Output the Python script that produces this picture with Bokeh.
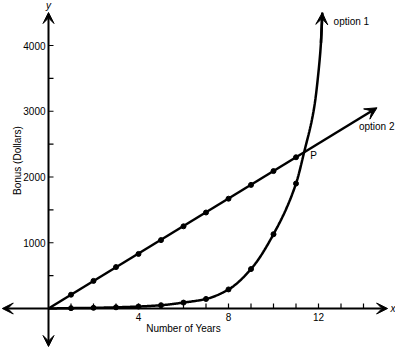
import numpy as np
from bokeh.plotting import figure
from bokeh.models import Range1d, Arrow, VeeHead
from bokeh.core.properties import value
from bokeh.embed import file_html
from bokeh.resources import INLINE

# ---- data ----
years = [1, 2, 3, 4, 5, 6, 7, 8, 9, 10, 11]
option1 = [5, 10, 18, 30, 50, 90, 145, 290, 600, 1130, 1900]
option2 = [210, 420, 630, 830, 1040, 1250, 1460, 1670, 1880, 2090, 2300]
# continuation of option 1 curve past the last marked year, up to its arrow tip
option1_ext_x = [11.37, 11.8, 12.0, 12.12, 12.17]
option1_ext_y = [2390, 3040, 3600, 4100, 4500]
option2_end_x = 14.6
intersection = (11.37, 2390)
x_axis_end = 15.07
y_axis_end = 4502
x_ticks = list(range(1, 15))
x_tick_labels = {4: "4", 8: "8", 12: "12"}
y_ticks = [500, 1000, 1500, 2000, 2500, 3000, 3500, 4000]
y_tick_labels = {1000: "1000", 2000: "2000", 3000: "3000", 4000: "4000"}

# ---- scale (pixels per unit) ----
PX_X = 22.5
PX_Y = 65.75 / 1000.0
OX, OY = 48, 308  # origin position in pixels
W, H = 395, 347

FONT = value("Liberation Sans")

p = figure(width=W, height=H, output_backend="svg", toolbar_location=None,
           x_range=Range1d(-OX / PX_X, (W - OX) / PX_X),
           y_range=Range1d((OY - H) / PX_Y, OY / PX_Y),
           min_border=0, outline_line_color=None)
p.axis.visible = False
p.grid.visible = False
p.background_fill_color = "white"
p.border_fill_color = "white"

x0, x1 = p.x_range.start, p.x_range.end
y0, y1 = p.y_range.start, p.y_range.end


def head(size=11):
    return VeeHead(size=size, fill_color="black", line_color="black", line_width=1)


# axes with arrows
p.add_layout(Arrow(x_start=0, y_start=0, x_end=x_axis_end, y_end=0, line_width=2, end=head()))
p.add_layout(Arrow(x_start=0, y_start=0, x_end=x0 + 0.08, y_end=0, line_width=2, end=head()))
p.add_layout(Arrow(x_start=0, y_start=0, x_end=0, y_end=y_axis_end, line_width=2, end=head()))
p.add_layout(Arrow(x_start=0, y_start=0, x_end=0, y_end=y0 + 15, line_width=2, end=head()))

# ticks
p.segment(x0=x_ticks, y0=[0] * len(x_ticks), x1=x_ticks, y1=[5 / PX_Y] * len(x_ticks),
          line_color="black", line_width=1.2)
p.segment(x0=[0] * len(y_ticks), y0=y_ticks, x1=[5 / PX_X] * len(y_ticks), y1=y_ticks,
          line_color="black", line_width=1.2)

# tick labels
xl = list(x_tick_labels.keys())
p.text(x=xl, y=[0] * len(xl), text=[x_tick_labels[k] for k in xl], y_offset=4,
       text_align="center", text_baseline="top", text_font=FONT,
       text_font_size="10px", text_color="black")
yl = list(y_tick_labels.keys())
p.text(x=[0] * len(yl), y=yl, text=[y_tick_labels[k] for k in yl], x_offset=-3,
       text_align="right", text_baseline="middle", text_font=FONT,
       text_font_size="10px", text_color="black")

# axis titles
p.text(x=[6.0], y=[0], text=["Number of Years"], y_offset=14, text_align="center",
       text_baseline="top", text_font=FONT, text_font_size="10px", text_color="black")
p.text(x=[-31 / PX_X], y=[2250], text=["Bonus (Dollars)"], angle=np.pi / 2,
       text_align="center", text_baseline="middle", text_font=FONT,
       text_font_size="10px", text_color="black")
p.text(x=[x_axis_end], y=[0], text=["x"], x_offset=3, text_align="left", text_baseline="middle",
       text_font=FONT, text_font_size="10px", text_font_style="italic", text_color="black")
p.text(x=[0], y=[y1], text=["y"], y_offset=-1, text_align="center", text_baseline="top",
       text_font=FONT, text_font_size="10px", text_font_style="italic", text_color="black")

# option 2 line
slope = option2[-1] / years[-1]
p.add_layout(Arrow(x_start=0, y_start=0, x_end=option2_end_x, y_end=slope * option2_end_x,
                   line_width=2.5, end=head(12)))
p.scatter(years, option2, size=5, color="black")

# option 1 curve (monotone cubic through the points)
cx = np.array([0] + years + option1_ext_x, dtype=float)
cy = np.array([0] + option1 + option1_ext_y, dtype=float)


def pchip(x, y, xs):
    h = np.diff(x)
    d = np.diff(y) / h
    n = len(x)
    m = np.zeros(n)
    m[0], m[-1] = d[0], d[-1]
    for k in range(1, n - 1):
        if d[k - 1] * d[k] <= 0:
            m[k] = 0
        else:
            w1 = 2 * h[k] + h[k - 1]
            w2 = h[k] + 2 * h[k - 1]
            m[k] = (w1 + w2) / (w1 / d[k - 1] + w2 / d[k])
    out = np.empty_like(xs)
    idx = np.clip(np.searchsorted(x, xs) - 1, 0, n - 2)
    for i, (xv, k) in enumerate(zip(xs, idx)):
        t = (xv - x[k]) / h[k]
        h00 = 2 * t**3 - 3 * t**2 + 1
        h10 = t**3 - 2 * t**2 + t
        h01 = -2 * t**3 + 3 * t**2
        h11 = t**3 - t**2
        out[i] = h00 * y[k] + h10 * h[k] * m[k] + h01 * y[k + 1] + h11 * h[k] * m[k + 1]
    return out


xs = np.linspace(cx[0], cx[-1], 400)
ys = pchip(cx, cy, xs)
p.line(xs, ys, line_width=2.5, color="black")
p.add_layout(Arrow(x_start=xs[-3], y_start=ys[-3], x_end=xs[-1], y_end=ys[-1], line_width=2.5,
                   end=head(12)))
p.scatter(years, option1, size=5, color="black")

# labels
p.text(x=[12.67], y=[4365], text=["option 1"], text_align="left", text_baseline="middle",
       text_font=FONT, text_font_size="10px", text_color="black")
p.text(x=[x1], y=[2768], text=["option 2"], x_offset=-1, text_align="right",
       text_baseline="middle", text_font=FONT, text_font_size="10px", text_color="black")
p.text(x=[intersection[0]], y=[intersection[1]], text=["P"], x_offset=6, y_offset=4,
       text_align="left", text_baseline="middle", text_font=FONT, text_font_size="10px",
       text_color="black")

open("out.html", "w").write(file_html(p, INLINE))
